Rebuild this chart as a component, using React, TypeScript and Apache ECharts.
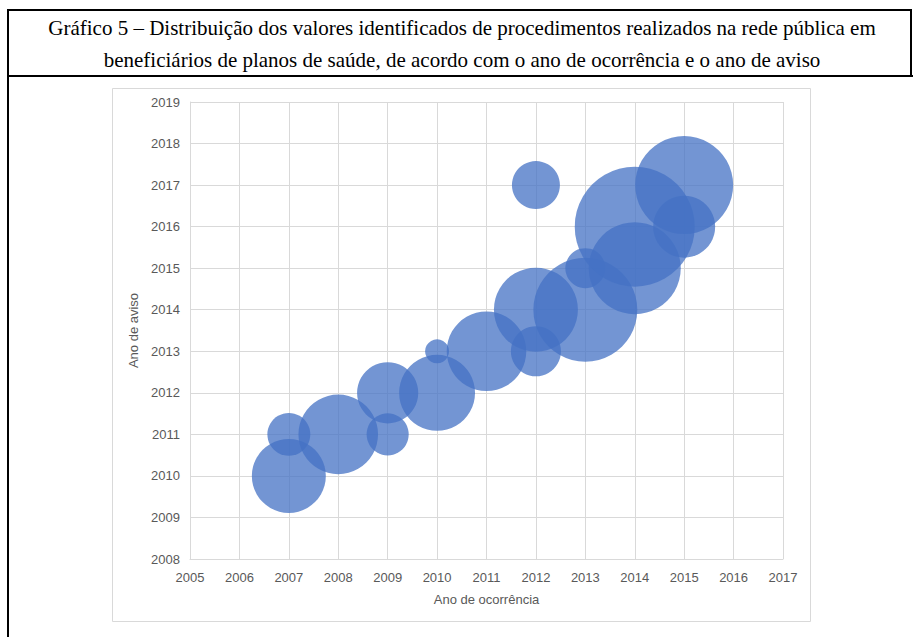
import React, { useEffect, useRef } from "react";
import * as echarts from "echarts";

const titleLines = [
  "Gráfico 5 – Distribuição dos valores identificados de procedimentos realizados na rede pública em",
  "beneficiários de planos de saúde, de acordo com o ano de ocorrência e o ano de aviso",
];
const xAxisName = "Ano de ocorrência";
const yAxisName = "Ano de aviso";
const anoOcorrencia = [2007, 2007, 2008, 2009, 2009, 2010, 2010, 2011, 2012, 2012, 2012, 2013, 2013, 2014, 2014, 2015, 2015];
const anoAviso = [2010, 2011, 2011, 2011, 2012, 2012, 2013, 2013, 2013, 2014, 2017, 2014, 2015, 2015, 2016, 2016, 2017];
const valores = [38, 12.8, 44, 12.3, 26, 40, 4, 44, 17.4, 49, 16, 75, 11.1, 58.8, 100, 26.7, 66.7];
const xMin = 2005, xMax = 2017, yMin = 2008, yMax = 2019;

export default function App() {
  const ref = useRef<HTMLDivElement>(null);
  useEffect(() => {
    if (!ref.current) return;
    const chart = echarts.init(ref.current, null, { renderer: "svg" });
    const data = anoOcorrencia.map((x, i) => [x, anoAviso[i], valores[i]]);
    const labelStyle = { color: "#595959", fontFamily: "Liberation Sans", fontSize: 13 };
    chart.setOption({
      animation: false,
      backgroundColor: "#ffffff",
      graphic: [
        { type: "polyline", shape: { points: [[8, 637], [8, 10], [911, 10], [911, 76]] }, style: { stroke: "#000", lineWidth: 2, fill: null } },
        { type: "line", shape: { x1: 8, y1: 76, x2: 913, y2: 76 }, style: { stroke: "#000", lineWidth: 2 } },
        { type: "rect", shape: { x: 112.5, y: 88.5, width: 698, height: 533 }, style: { stroke: "#D9D9D9", lineWidth: 1, fill: "#fff" }, z: -10 },
        { type: "text", x: 462, y: 28, style: { text: titleLines[0], font: "21px 'Liberation Serif'", fill: "#000", textAlign: "center", textVerticalAlign: "middle" } },
        { type: "text", x: 462, y: 60, style: { text: titleLines[1], font: "21px 'Liberation Serif'", fill: "#000", textAlign: "center", textVerticalAlign: "middle" } },
      ],
      grid: { left: 190, top: 102, right: 130, bottom: 78, containLabel: false },
      xAxis: {
        type: "value", min: xMin, max: xMax, interval: 1,
        name: xAxisName, nameLocation: "middle", nameGap: 34,
        nameTextStyle: labelStyle,
        axisLine: { show: true, lineStyle: { color: "#D9D9D9" } },
        axisTick: { show: false },
        axisLabel: { ...labelStyle, margin: 12, formatter: (v: number) => String(v) },
        splitLine: { show: true, lineStyle: { color: "#D9D9D9" } },
      },
      yAxis: {
        type: "value", min: yMin, max: yMax, interval: 1,
        name: yAxisName, nameLocation: "middle", nameGap: 46,
        nameTextStyle: labelStyle,
        axisLine: { show: true, lineStyle: { color: "#D9D9D9" } },
        axisTick: { show: false },
        axisLabel: { ...labelStyle, margin: 10, formatter: (v: number) => String(v) },
        splitLine: { show: true, lineStyle: { color: "#D9D9D9" } },
      },
      series: [
        {
          type: "scatter",
          data,
          symbolSize: (v: number[]) => 12 * Math.sqrt(v[2]),
          itemStyle: { color: "#4472C4", opacity: 0.75 },
          emphasis: { disabled: true },
        },
      ],
    });
    return () => chart.dispose();
  }, []);
  return <div ref={ref} style={{ position: "absolute", left: 0, top: 0, width: 913, height: 637 }} />;
}
